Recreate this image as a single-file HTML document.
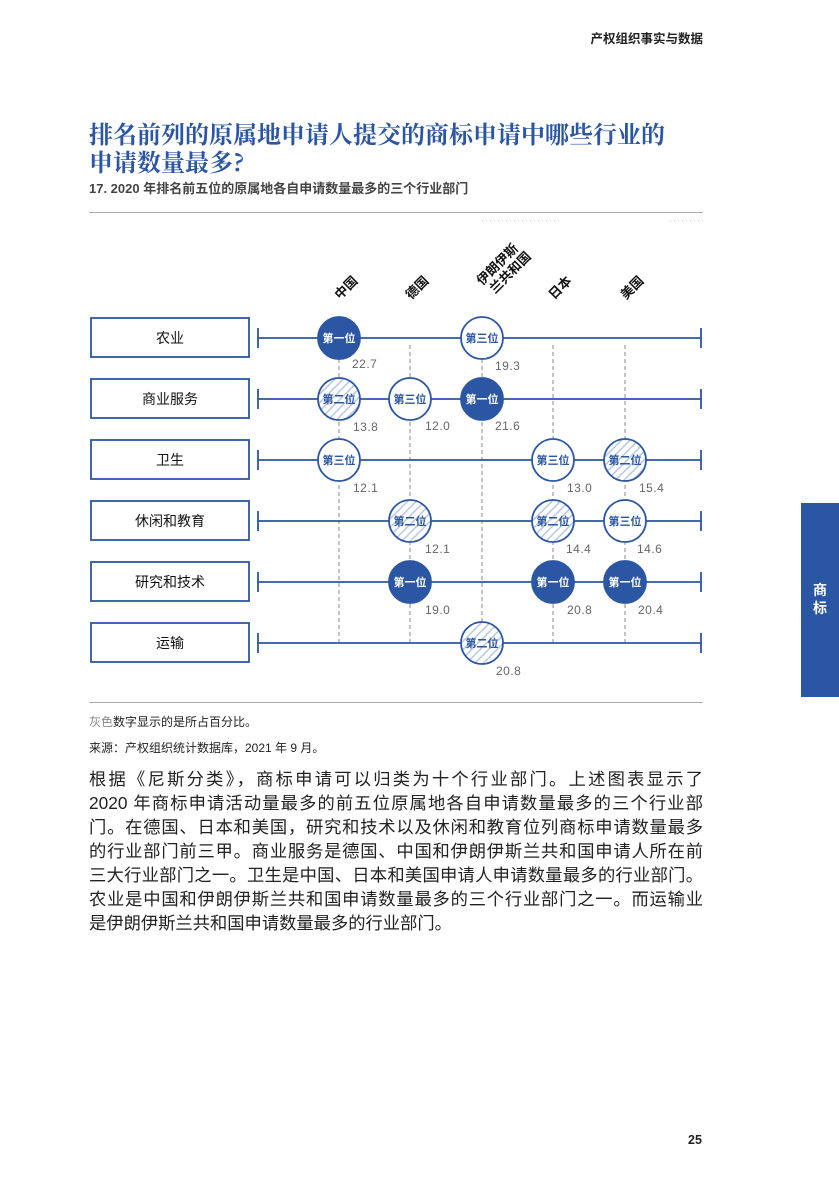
<!DOCTYPE html>
<html><head><meta charset="utf-8"><style>
body{margin:0;background:#fff;}
.pg{position:relative;width:839px;height:1191px;overflow:hidden;font-family:"Liberation Sans","Noto Sans CJK SC",sans-serif;color:#222;}
.a{position:absolute;white-space:nowrap;}
.body div{position:absolute;left:89px;width:614px;font-size:17.3px;text-align:justify;text-align-last:justify;white-space:nowrap;color:#222;}
</style></head><body><div class="pg">
<div class="a" style="right:136px;top:28px;font-size:12.5px;font-weight:bold;">产权组织事实与数据</div>
<div class="a" style="left:89px;top:119px;font-size:24px;line-height:28px;font-weight:bold;color:#2b56a3;font-family:'Noto Serif CJK SC','Liberation Serif',serif;">排名前列的原属地申请人提交的商标申请中哪些行业的<br>申请数量最多?</div>
<div class="a" style="left:89px;top:178px;font-size:13px;font-weight:bold;color:#444;">17. 2020 年排名前五位的原属地各自申请数量最多的三个行业部门</div>
<div class="a" style="left:89px;top:212px;width:614px;height:1px;background:#aaa;"></div>
<div class="a" style="left:89px;top:702px;width:614px;height:1px;background:#aaa;"></div>
<svg class="a" style="left:0;top:0" width="839" height="1191" font-family="Liberation Sans,Noto Sans CJK SC,sans-serif">
<defs><pattern id="h" width="6" height="6" patternUnits="userSpaceOnUse" patternTransform="rotate(45)"><rect width="6" height="6" fill="#fff"/><rect width="1.5" height="6" fill="#b8c8e4"/></pattern></defs>
<g stroke="#ccc" stroke-dasharray="1 3"><line x1="482" y1="221" x2="560" y2="221"/><line x1="670" y1="221" x2="703" y2="221"/></g>
<g font-size="13" font-weight="bold" fill="#111">
<text transform="translate(340,300) rotate(-45)">中国</text>
<text transform="translate(411,300) rotate(-45)">德国</text>
<text transform="translate(482,286) rotate(-45)">伊朗伊斯</text>
<text transform="translate(495,294) rotate(-45)">兰共和国</text>
<text transform="translate(554,300) rotate(-45)">日本</text>
<text transform="translate(626,300) rotate(-45)">美国</text>
</g>
<g stroke="#888" stroke-dasharray="4 3"><line x1="339" y1="345" x2="339" y2="645"/><line x1="410" y1="345" x2="410" y2="645"/><line x1="482" y1="345" x2="482" y2="645"/><line x1="553" y1="345" x2="553" y2="645"/><line x1="625" y1="345" x2="625" y2="645"/></g>
<g stroke="#2b56a3" stroke-width="1.8" fill="none">
<rect x="91" y="318" width="158" height="39"/><rect x="91" y="379" width="158" height="39"/><rect x="91" y="440" width="158" height="39"/><rect x="91" y="501" width="158" height="39"/><rect x="91" y="562" width="158" height="39"/><rect x="91" y="623" width="158" height="39"/>
<path d="M258 338H701M258 399H701M258 460H701M258 521H701M258 582H701M258 643H701M258 328v20M701 328v20M258 389v20M701 389v20M258 450v20M701 450v20M258 511v20M701 511v20M258 572v20M701 572v20M258 633v20M701 633v20"/>
</g>
<g font-size="14" fill="#111" text-anchor="middle"><text x="170" y="343">农业</text><text x="170" y="404">商业服务</text><text x="170" y="465">卫生</text><text x="170" y="526">休闲和教育</text><text x="170" y="587">研究和技术</text><text x="170" y="648">运输</text></g>
<g font-size="11" font-weight="bold" text-anchor="middle" stroke-width="1.8">
<circle cx="339" cy="338" r="21" fill="#2b56a3" stroke="#2b56a3"/><text x="339" y="342" fill="#fff">第一位</text>
<circle cx="482" cy="338" r="21" fill="#fff" stroke="#2b56a3"/><text x="482" y="342" fill="#2b56a3">第三位</text>
<circle cx="339" cy="399" r="21" fill="url(#h)" stroke="#2b56a3"/><text x="339" y="403" fill="#2b56a3">第二位</text>
<circle cx="410" cy="399" r="21" fill="#fff" stroke="#2b56a3"/><text x="410" y="403" fill="#2b56a3">第三位</text>
<circle cx="482" cy="399" r="21" fill="#2b56a3" stroke="#2b56a3"/><text x="482" y="403" fill="#fff">第一位</text>
<circle cx="339" cy="460" r="21" fill="#fff" stroke="#2b56a3"/><text x="339" y="464" fill="#2b56a3">第三位</text>
<circle cx="553" cy="460" r="21" fill="#fff" stroke="#2b56a3"/><text x="553" y="464" fill="#2b56a3">第三位</text>
<circle cx="625" cy="460" r="21" fill="url(#h)" stroke="#2b56a3"/><text x="625" y="464" fill="#2b56a3">第二位</text>
<circle cx="410" cy="521" r="21" fill="url(#h)" stroke="#2b56a3"/><text x="410" y="525" fill="#2b56a3">第二位</text>
<circle cx="553" cy="521" r="21" fill="url(#h)" stroke="#2b56a3"/><text x="553" y="525" fill="#2b56a3">第二位</text>
<circle cx="625" cy="521" r="21" fill="#fff" stroke="#2b56a3"/><text x="625" y="525" fill="#2b56a3">第三位</text>
<circle cx="410" cy="582" r="21" fill="#2b56a3" stroke="#2b56a3"/><text x="410" y="586" fill="#fff">第一位</text>
<circle cx="553" cy="582" r="21" fill="#2b56a3" stroke="#2b56a3"/><text x="553" y="586" fill="#fff">第一位</text>
<circle cx="625" cy="582" r="21" fill="#2b56a3" stroke="#2b56a3"/><text x="625" y="586" fill="#fff">第一位</text>
<circle cx="482" cy="643" r="21" fill="url(#h)" stroke="#2b56a3"/><text x="482" y="647" fill="#2b56a3">第二位</text>
</g>
<g font-size="12" fill="#666" letter-spacing="0.5">
<text x="352" y="368">22.7</text><text x="495" y="370">19.3</text>
<text x="353" y="431">13.8</text><text x="425" y="430">12.0</text><text x="495" y="430">21.6</text>
<text x="353" y="492">12.1</text><text x="567" y="492">13.0</text><text x="639" y="492">15.4</text>
<text x="425" y="553">12.1</text><text x="566" y="553">14.4</text><text x="637" y="553">14.6</text>
<text x="425" y="614">19.0</text><text x="567" y="614">20.8</text><text x="638" y="614">20.4</text>
<text x="496" y="675">20.8</text>
</g>
</svg>
<div class="a" style="left:89px;top:713px;font-size:12px;"><span style="color:#888">灰色</span>数字显示的是所占百分比。</div>
<div class="a" style="left:89px;top:739px;font-size:12px;">来源：产权组织统计数据库，2021 年 9 月。</div>
<div class="body">
<div style="top:765px">根据《尼斯分类》，商标申请可以归类为十个行业部门。上述图表显示了</div>
<div style="top:789px">2020 年商标申请活动量最多的前五位原属地各自申请数量最多的三个行业部</div>
<div style="top:813px">门。在德国、日本和美国，研究和技术以及休闲和教育位列商标申请数量最多</div>
<div style="top:837px">的行业部门前三甲。商业服务是德国、中国和伊朗伊斯兰共和国申请人所在前</div>
<div style="top:861px">三大行业部门之一。卫生是中国、日本和美国申请人申请数量最多的行业部门。</div>
<div style="top:885px">农业是中国和伊朗伊斯兰共和国申请数量最多的三个行业部门之一。而运输业</div>
<div style="top:909px;text-align-last:left;">是伊朗伊斯兰共和国申请数量最多的行业部门。</div>
</div>
<div class="a" style="left:801px;top:503px;width:38px;height:194px;background:#2b56a3;"></div>
<div class="a" style="left:801px;top:581px;width:38px;text-align:center;color:#fff;font-weight:bold;font-size:14px;line-height:18px;">商<br>标</div>
<div class="a" style="left:688px;top:1133px;font-size:12.5px;font-weight:bold;">25</div>
</div></body></html>
